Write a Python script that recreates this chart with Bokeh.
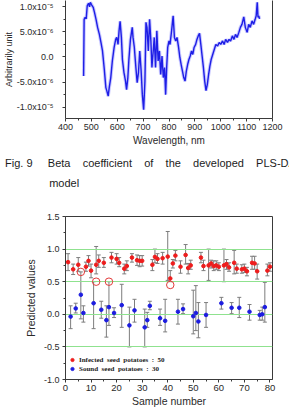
from bokeh.plotting import figure
from bokeh.layouts import column
from bokeh.models import (ColumnDataSource, FixedTicker, LinearAxis, Whisker, Title,
                          TeeHead, Legend, LegendItem, Range1d, NumeralTickFormatter)
from bokeh.embed import file_html
from bokeh.resources import INLINE

# ---------------- Fig. 9 : beta coefficients of the PLS-DA model ----------------
wavelength = [470, 472, 476, 480, 484, 489, 493, 496, 501, 507, 512, 518, 524, 531, 537,
              543, 550, 556, 560, 565, 569, 575, 581, 588, 594, 598, 603, 607, 611, 616,
              620, 626, 632, 636, 641, 645, 651, 658, 661, 666, 672, 677, 682, 687, 692,
              697, 702, 707, 711, 715, 720, 725, 730, 734, 738, 743, 748, 753, 758, 763,
              768, 773, 778, 783, 787, 791, 795, 800, 804, 810, 816, 821, 826, 831, 837,
              842, 847, 852, 857, 862, 867, 872, 877, 882, 887, 892, 897, 903, 908, 913,
              918, 923, 928, 933, 938, 943, 948, 953, 958, 963, 969, 975, 981, 988, 994,
              1000, 1007, 1013, 1019, 1026, 1032, 1038, 1045, 1051, 1057, 1063, 1070, 1076,
              1082, 1089, 1095, 1102, 1108, 1114, 1121, 1127, 1133, 1137, 1141, 1144, 1147,
              1150]
# beta coefficient, in units of 1e-6
beta_e6 = [-3.8, 7.5, 7.9, 7.6, 10.2, 10.7, 10.0, 10.9, 10.4, 9.9, 8.9, 7.5, 5.9, 4.5, 2.9,
           1.2, -2.5, -6.1, -6.8, -7.8, -6.1, -4.1, -0.8, 1.9, 3.5, 3.9, 2.5, 5.2, 7.1, 3.9,
           -0.5, -3.1, -4.8, -6.5, -4.1, -0.5, 3.5, 5.9, 3.9, 1.9, -2.1, -5.1, -3.1, 1.2, -2.5,
           -7.5, -10.5, -4.8, 6.9, 5.9, 1.2, 7.5, 3.2, -2.1, 0.5, 3.9, -2.1, 5.2, -0.8, 1.2,
           -3.5, 0.2, -4.1, -2.1, -7.5, -2.1, 1.9, 3.2, 2.5, 5.2, 8.2, 3.9, 3.2, 3.9, 1.9,
           -0.1, -1.5, -2.8, -4.1, -4.8, -2.8, -1.5, -0.5, 0.2, 1.2, 0.5, 1.9, 2.5, 3.5, 4.2,
           4.7, 2.5, 0.2, -2.1, -4.8, -6.7, -5.5, -3.5, -1.8, -0.5, 0.5, 1.5, 2.5, 2.2, 2.9,
           2.5, 3.2, 2.5, 3.5, 2.9, 3.5, 3.2, 4.2, 3.5, 4.5, 3.9, 4.9, 5.9,
           6.5, 8.0, 5.9, 4.9, 6.5, 5.9, 7.2, 6.5, 7.5, 8.2, 10.9, 7.9, 8.2,
           7.6]

wl_ticks = [400, 500, 600, 700, 800, 900, 1000, 1100, 1200]
wl_minor = [450, 550, 650, 750, 850, 950, 1050, 1150]
beta_ticks = [-10, -5, 0, 5, 10]
beta_minor = [-7.5, -2.5, 2.5, 7.5]
beta_tick_labels = {10: "1.0x10\u207b\u2075", 5: "5.0x10\u207b\u2076", 0: "0.0",
                    -5: "-5.0x10\u207b\u2076", -10: "-1.0x10\u207b\u2075"}

caption_label = "Fig. 9"
caption_words = ["Beta", "coefficient", "of", "the", "developed", "PLS-DA"]
caption_line2 = "model"

# ---------------- PLS-DA predictions for the 80 samples ----------------
infected_sample = [1, 3, 5, 8, 9, 10, 12, 13, 15, 18, 20, 21, 23, 24, 26, 28, 29, 30, 34, 35,
                   36, 38, 40, 41, 42, 43, 45, 47, 48, 49, 53, 54, 56, 57, 58, 59, 60, 62, 63, 64,
                   66, 67, 69, 70, 71, 73, 74, 75, 79, 80]
infected_pred = [0.80, 0.69, 0.76, 0.73, 0.82, 0.67, 0.76, 0.82, 0.79, 0.87, 0.85, 0.79, 0.70,
                 0.74, 0.87, 0.83, 0.82, 0.82, 0.76, 0.88, 0.85, 0.86, 0.885, 0.55, 0.78, 0.90,
                 0.73, 0.91, 0.71, 0.75, 0.87, 0.74, 0.75, 0.78, 0.74, 0.75, 0.73, 0.75, 0.77,
                 0.72, 0.79, 0.70, 0.69, 0.70, 0.66, 0.79, 0.78, 0.66, 0.67, 0.73]
infected_low = [0.67, 0.61, 0.66, 0.66, 0.74, 0.56, 0.62, 0.72, 0.72, 0.79, 0.77, 0.73, 0.62,
                0.67, 0.80, 0.75, 0.73, 0.74, 0.67, 0.79, 0.78, 0.77, 0.52, 0.50, 0.71, 0.82,
                0.63, 0.77, 0.62, 0.69, 0.79, 0.67, 0.52, 0.71, 0.67, 0.69, 0.67, 0.50, 0.69,
                0.66, 0.62, 0.63, 0.63, 0.64, 0.59, 0.69, 0.69, 0.54, 0.59, 0.66]
infected_high = [0.93, 0.77, 0.87, 0.80, 0.90, 0.77, 1.04, 0.91, 0.87, 0.95, 0.93, 0.87, 0.77,
                 0.82, 0.93, 0.91, 0.90, 0.90, 0.84, 1.00, 0.93, 0.95, 1.27, 0.67, 0.84, 0.98,
                 0.82, 1.07, 0.78, 0.83, 0.95, 0.83, 1.00, 0.83, 0.82, 0.82, 0.79, 1.00, 0.84,
                 0.79, 0.98, 0.77, 0.76, 0.77, 0.72, 0.89, 0.89, 0.77, 0.77, 0.79]

sound_sample = [2, 4, 6, 7, 11, 14, 16, 17, 19, 22, 25, 27, 31, 32, 33, 37, 39, 44, 46, 50,
                51, 52, 55, 61, 65, 68, 72, 76, 77, 78]
sound_pred = [-0.035, 0.09, 0.30, 0.02, 0.17, 0.07, -0.09, 0.11, 0.02, 0.14, -0.17, 0.06,
              -0.20, -0.09, 0.13, -0.06, -0.10, 0.04, 0.08, -0.03, 0.02, -0.11, -0.01, 0.17,
              0.10, 0.10, 0.04, -0.01, 0.00, 0.11]
sound_low = [-0.22, 0.02, -0.07, -0.12, -0.22, -0.06, -0.35, -0.17, -0.05, -0.20, -0.50, -0.12,
             -0.50, -0.20, 0.07, -0.17, -0.27, -0.15, 0.01, -0.30, -0.25, -0.36, -0.20, 0.08,
             0.01, -0.05, -0.09, -0.09, -0.09, -0.12]
sound_high = [0.13, 0.17, 0.65, 0.13, 0.50, 0.20, 0.13, 0.50, 0.10, 0.46, 0.11, 0.23,
              0.08, 0.03, 0.20, 0.08, 0.23, 0.23, 0.16, 0.37, 0.44, 0.18, 0.18, 0.26,
              0.18, 0.26, 0.15, 0.06, 0.11, 0.49]

# samples flagged with an open circle
flag_sample = [6, 12, 17, 41]
flag_value = [0.65, 0.50, 0.50, 0.45]

threshold_lines = [1.0, 0.5, 0.0, -0.5]
sample_ticks = [0, 10, 20, 30, 40, 50, 60, 70, 80]
sample_minor = [5, 15, 25, 35, 45, 55, 65, 75]
pred_ticks = [-1.0, -0.5, 0.0, 0.5, 1.0, 1.5]
pred_minor = [-0.75, -0.25, 0.25, 0.75, 1.25]

FONT = "Liberation Sans"
AXIS_COLOR = "#3a3a3a"
TEXT_COLOR = "#2a2a2a"
NBSP = "\u00a0"


def style_axis(ax, size):
    ax.axis_line_color = AXIS_COLOR
    ax.major_tick_line_color = AXIS_COLOR
    ax.minor_tick_line_color = AXIS_COLOR
    ax.major_tick_out = 3
    ax.major_tick_in = 0
    ax.minor_tick_out = 2
    ax.minor_tick_in = 0
    ax.major_label_text_font = FONT
    ax.major_label_text_font_size = size
    ax.major_label_text_color = TEXT_COLOR
    ax.axis_label_text_font = FONT
    ax.axis_label_text_font_style = "normal"
    ax.axis_label_text_color = TEXT_COLOR


# ---------- top panel (with its caption as titles below) ----------
top = figure(width=289, height=196, x_range=Range1d(400, 1200), y_range=Range1d(-12.25, 11.25),
             output_backend="svg", toolbar_location=None,
             min_border_left=62, min_border_right=17, min_border_top=0, min_border_bottom=78)
top.outline_line_color = None
top.grid.visible = False

top.line(wavelength, beta_e6, line_width=3.4, color="#9c9cff", alpha=0.55)
top.line(wavelength, beta_e6, line_width=1.4, color="#1e1ee6")

top.xaxis.ticker = FixedTicker(ticks=wl_ticks, minor_ticks=wl_minor)
top.yaxis.ticker = FixedTicker(ticks=beta_ticks, minor_ticks=beta_minor)
top.yaxis.major_label_overrides = beta_tick_labels
style_axis(top.xaxis[0], "9px")
style_axis(top.yaxis[0], "9px")
top.xaxis.major_label_standoff = 2
top.yaxis.major_label_standoff = 9
top.xaxis.axis_label = "Wavelength, nm"
top.xaxis.axis_label_text_font_size = "10px"
top.xaxis.axis_label_standoff = 2
top.yaxis.axis_label = "Arbitrarily unit"
top.yaxis.axis_label_text_font_size = "9px"
top.yaxis.axis_label_standoff = 0

# plain right edge of the frame
right_edge = LinearAxis(ticker=FixedTicker(ticks=[]), major_tick_line_color=None,
                        minor_tick_line_color=None, axis_line_color=AXIS_COLOR)
top.add_layout(right_edge, "right")

line1 = caption_label.replace(" ", NBSP) + NBSP * 5 + (NBSP * 4).join(caption_words)
cap1 = Title(text=line1, align="left", offset=-60.5, standoff=13,
             text_font=FONT, text_font_size="11px", text_font_style="normal",
             text_color="#1c1c1c")
cap2 = Title(text=caption_line2, align="left", offset=-16.3, standoff=-2,
             text_font=FONT, text_font_size="11px", text_font_style="normal",
             text_color="#1c1c1c")
top.add_layout(cap1, "below")
top.add_layout(cap2, "below")

# ---------- bottom panel ----------
bot = figure(width=289, height=213, x_range=Range1d(0, 81), y_range=Range1d(-1.0, 1.5),
             output_backend="svg", toolbar_location=None,
             min_border_left=49, min_border_right=12, min_border_top=20, min_border_bottom=29)
bot.outline_line_color = AXIS_COLOR
bot.grid.visible = False
bot.hspan(y=threshold_lines, line_color="#8fe28f", line_width=1)

inf_src = ColumnDataSource(dict(x=infected_sample, y=infected_pred,
                                lo=infected_low, hi=infected_high))
snd_src = ColumnDataSource(dict(x=sound_sample, y=sound_pred, lo=sound_low, hi=sound_high))

for src in (inf_src, snd_src):
    bot.add_layout(Whisker(base="x", lower="lo", upper="hi", source=src,
                           line_color="#7d7d7d", line_width=1,
                           lower_head=TeeHead(size=4, line_color="#7d7d7d", line_width=1),
                           upper_head=TeeHead(size=4, line_color="#7d7d7d", line_width=1)))

inf_r = bot.scatter("x", "y", source=inf_src, marker="circle", size=3.6,
                    fill_color="#ee1c1c", line_color="#ee1c1c")
snd_r = bot.scatter("x", "y", source=snd_src, marker="circle", size=3.6,
                    fill_color="#1c1ce0", line_color="#1c1ce0")
bot.scatter(flag_sample, flag_value, marker="circle", size=7.5, fill_color=None,
            line_color="#e23a3a", line_width=1)

bot.xaxis.ticker = FixedTicker(ticks=sample_ticks, minor_ticks=sample_minor)
bot.yaxis.ticker = FixedTicker(ticks=pred_ticks, minor_ticks=pred_minor)
bot.yaxis.formatter = NumeralTickFormatter(format="0.0")
style_axis(bot.xaxis[0], "9.5px")
style_axis(bot.yaxis[0], "9px")
bot.xaxis.major_label_standoff = 2
bot.yaxis.major_label_standoff = 3
bot.xaxis.axis_label = "Sample number"
bot.xaxis.axis_label_text_font_size = "10.5px"
bot.xaxis.axis_label_standoff = 1
bot.yaxis.axis_label = "Predicted values"
bot.yaxis.axis_label_text_font_size = "10.5px"
bot.yaxis.axis_label_standoff = 4

legend = Legend(items=[
    LegendItem(label=(NBSP * 2).join(["Infected", "seed", "potatoes", ":", "50"]),
               renderers=[inf_r]),
    LegendItem(label=(NBSP * 2).join(["Sound", "seed", "potatoes", ":", "30"]),
               renderers=[snd_r])],
    location=(3, 6), orientation="vertical", background_fill_alpha=0,
    border_line_color=None, padding=0, margin=0, spacing=0,
    glyph_height=9, glyph_width=8, label_standoff=3, label_height=9,
    label_text_font="Liberation Serif", label_text_font_style="bold",
    label_text_font_size="7px", label_text_color="#222222")
bot.add_layout(legend)

page = column(top, bot, spacing=0)
open("out.html", "w").write(file_html(page, INLINE))
